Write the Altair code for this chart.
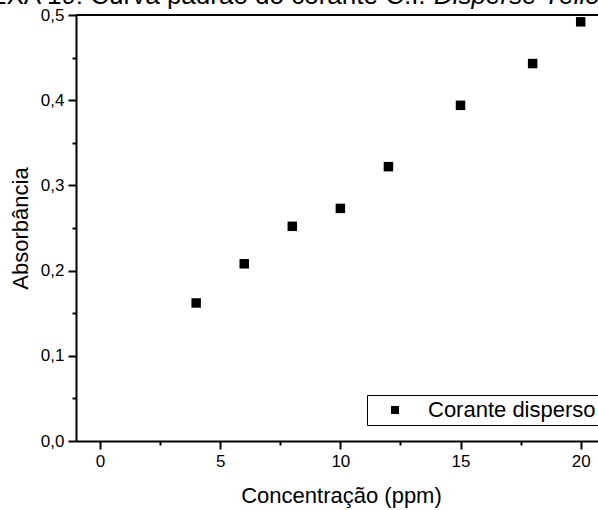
import altair as alt
import pandas as pd

# ---- data ----
conc = [4, 6, 8, 10, 12, 15, 18, 20]
absorb = [0.162, 0.208, 0.252, 0.273, 0.322, 0.394, 0.443, 0.492]
series = ["Corante disperso"] * len(conc)
x_ticks = [0, 2.5, 5, 7.5, 10, 12.5, 15, 17.5, 20]
y_ticks = [0, 0.05, 0.1, 0.15, 0.2, 0.25, 0.3, 0.35, 0.4, 0.45, 0.5]
title_main = "ANEXA 19: Curva padrão do corante C.I. "
title_italic = "Disperse Yellow 211"

W, H = 522, 426
FONT = "Liberation Sans"

df = pd.DataFrame({"conc": conc, "abs": absorb, "serie": series})
one = pd.DataFrame({"a": [0]})

axis_common = dict(
    domainColor="black", domainWidth=2, tickColor="black", tickWidth=2,
    labelFont=FONT, labelFontSize=17, labelColor="black",
    titleFont=FONT, titleFontSize=22, titleColor="black", titleFontWeight="normal",
    grid=False, labelOverlap=False, labelFlush=False,
)

points = alt.Chart(df).mark_point(shape="square", filled=True, size=90, opacity=1).encode(
    x=alt.X("conc:Q", title="Concentração (ppm)",
            scale=alt.Scale(domain=[-1, 20.72], nice=False, zero=False),
            axis=alt.Axis(values=x_ticks,
                          labelExpr="datum.value % 5 === 0 ? format(datum.value, 'd') : ''",
                          tickSize={"condition": {"test": "datum.value % 5 === 0", "value": 8}, "value": 4},
                          labelPadding=4, titlePadding=16, titleX=265, **axis_common)),
    y=alt.Y("abs:Q", title="Absorbância",
            scale=alt.Scale(domain=[0, 0.5], nice=False, zero=False),
            axis=alt.Axis(values=y_ticks,
                          labelExpr="round(datum.value*100) % 10 === 0 ? replace(format(datum.value, '.1f'), '.', ',') : ''",
                          tickSize={"condition": {"test": "round(datum.value*100) % 10 === 0", "value": 8}, "value": 4},
                          labelPadding=4, titlePadding=8, **axis_common)),
    color=alt.Color("serie:N", scale=alt.Scale(range=["black"]),
                    legend=alt.Legend(title=None, orient="none", legendX=291, legendY=380,
                                      strokeColor="black", fillColor="white",
                                      padding=4, symbolType="square", symbolSize=64,
                                      symbolOffset=13, labelOffset=22, labelLimit=400,
                                      labelFont=FONT, labelFontSize=22, labelColor="black")),
)

top_rule = alt.Chart(one).mark_rule(color="black", strokeWidth=2).encode(
    x=alt.value(0), x2=alt.value(W), y=alt.value(0))

t1 = alt.Chart(one).mark_text(text=title_main, align="left", baseline="alphabetic",
                              font=FONT, fontSize=26, color="black").encode(
    x=alt.value(-123), y=alt.value(-11))
t2 = alt.Chart(one).mark_text(text=title_italic, align="left", baseline="alphabetic",
                              font=FONT, fontSize=26, fontStyle="italic", color="black").encode(
    x=alt.value(358), y=alt.value(-11))

chart = alt.layer(t1, t2, top_rule, points).properties(
    width=W, height=H,
    padding={"left": 76, "top": 15, "right": 0, "bottom": 69},
    autosize=alt.AutoSizeParams(type="none"),
).configure_view(stroke=None).configure(background="white")

chart.save("out.html", embed_options={"renderer": "svg", "actions": False})
